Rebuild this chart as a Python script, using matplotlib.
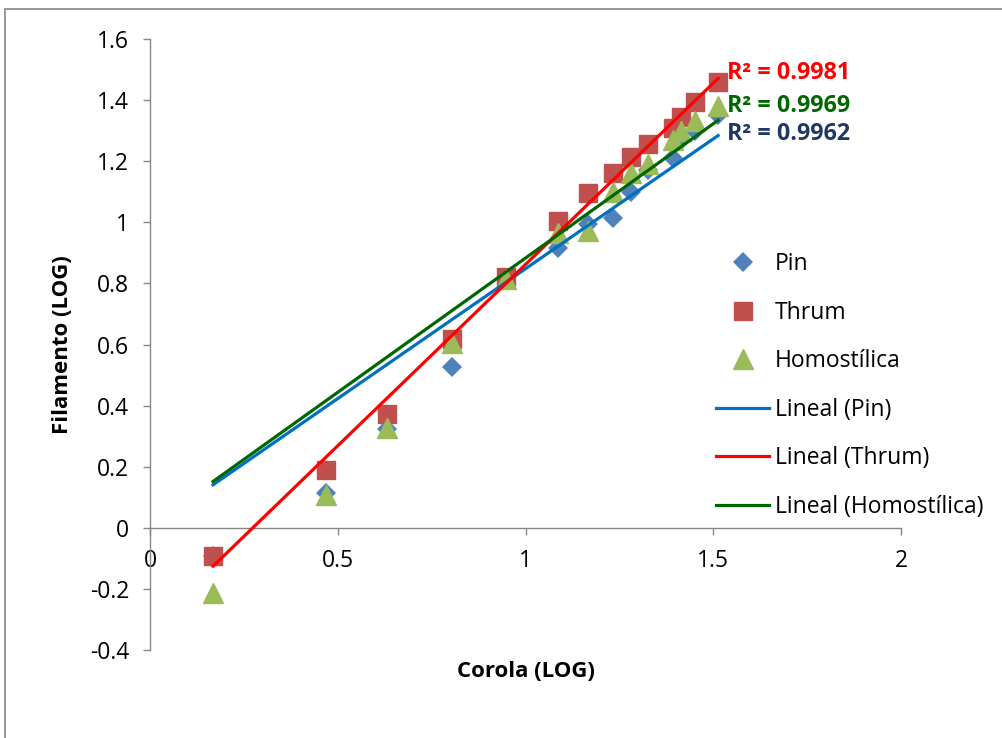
import numpy as np
import matplotlib.pyplot as plt
from matplotlib.patches import Rectangle
from matplotlib.ticker import FuncFormatter

# ---------------------------------------------------------------------------
# Data
# ---------------------------------------------------------------------------

corola = np.array([0.168, 0.469, 0.631, 0.804, 0.948, 1.087, 1.166,
                   1.232, 1.280, 1.325, 1.392, 1.413, 1.452, 1.513])

pin = np.array([-0.092, 0.115, 0.324, 0.527, 0.815, 0.917, 0.995,
                1.015, 1.100, 1.170, 1.210, 1.270, 1.300, 1.350])
thrum = np.array([-0.092, 0.190, 0.373, 0.619, 0.820, 1.005, 1.097,
                  1.162, 1.213, 1.257, 1.310, 1.345, 1.395, 1.460])
homo = np.array([-0.213, 0.108, 0.327, 0.606, 0.815, 0.966, 0.970,
                 1.100, 1.160, 1.190, 1.270, 1.300, 1.330, 1.380])

# trend lines as drawn (slope, intercept)
trend_pin = (0.850, -0.002)
trend_thrum = (1.187, -0.325)
trend_homo = (0.879, 0.004)

r2_labels = ["R² = 0.9981", "R² = 0.9969", "R² = 0.9962"]
r2_ypos = [1.489, 1.381, 1.290]

xticks = [0, 0.5, 1, 1.5, 2]
yticks = [-0.4, -0.2, 0, 0.2, 0.4, 0.6, 0.8, 1, 1.2, 1.4, 1.6]

# ---------------------------------------------------------------------------
# Style
# ---------------------------------------------------------------------------

plt.rcParams["font.family"] = ["Open Sans", "DejaVu Sans"]
FS = 16.5
FS_B = 16
AXIS_GRAY = "#868686"

fig = plt.figure(figsize=(10.02, 7.38), dpi=100)
ax = fig.add_axes([150 / 1002, 1 - 650 / 738, 751 / 1002, 611 / 738])

# outer chart frame (only left and top edges fall inside the image)
fig.patches.append(Rectangle((5 / 1002, -0.2), 1.2, 1.2 - 9 / 738,
                             transform=fig.transFigure, fill=False,
                             edgecolor=AXIS_GRAY, lw=1.2, zorder=0))

ax.plot(corola, pin, "D", color="#4F81BD", ms=10.5, mew=0, label="Pin", zorder=3)
ax.plot(corola, thrum, "s", color="#C0504D", ms=13, label="Thrum", zorder=3)
ax.plot(corola, homo, "^", color="#9BBB59", ms=14, label="Homostílica", zorder=3)

xr = np.array([corola.min(), corola.max()])
ax.plot(xr, trend_pin[0] * xr + trend_pin[1], color="#0070C0", lw=2.3,
        label="Lineal (Pin)", zorder=4)
ax.plot(xr, trend_thrum[0] * xr + trend_thrum[1], color="#FF0000", lw=2.3,
        label="Lineal (Thrum)", zorder=4)
ax.plot(xr, trend_homo[0] * xr + trend_homo[1], color="#006600", lw=2.3,
        label="Lineal (Homostílica)", zorder=4)

for txt, yy, col in zip(r2_labels, r2_ypos, ["#FF0000", "#006600", "#1F3864"]):
    ax.text(1.537, yy, txt, color=col, fontsize=16.8, fontweight="bold",
            va="center", ha="left", zorder=5)

ax.set_xlim(0, 2)
ax.set_ylim(-0.4, 1.6)
ax.set_xticks(xticks)
ax.set_yticks(yticks)
fmt = FuncFormatter(lambda v, p: f"{v:g}")
ax.xaxis.set_major_formatter(fmt)
ax.yaxis.set_major_formatter(fmt)

for s in ["top", "right"]:
    ax.spines[s].set_visible(False)
ax.spines["bottom"].set_position(("data", 0))
for s in ["left", "bottom"]:
    ax.spines[s].set_color(AXIS_GRAY)
    ax.spines[s].set_linewidth(1.0)
ax.tick_params(axis="both", direction="out", length=5, width=1.0,
               color=AXIS_GRAY, labelsize=FS)
ax.tick_params(axis="y", pad=10)
ax.tick_params(axis="x", pad=10)

ax.set_xlabel("Corola (LOG)", fontsize=FS_B, fontweight="bold")
ax.set_ylabel("Filamento (LOG)", fontsize=FS_B, fontweight="bold")
ax.xaxis.label.set_va("center")
ax.yaxis.label.set_va("center")
ax.xaxis.set_label_coords(0.5, -0.036)
ax.yaxis.set_label_coords(-0.117, 0.5)

ax.legend(loc="upper left", bbox_to_anchor=(707 / 1002, 1 - 243 / 738),
          bbox_transform=fig.transFigure, frameon=False, fontsize=FS,
          labelspacing=1.07, handlelength=2.3, handletextpad=0.26,
          borderaxespad=0)

fig.savefig("out.png", dpi=100)
